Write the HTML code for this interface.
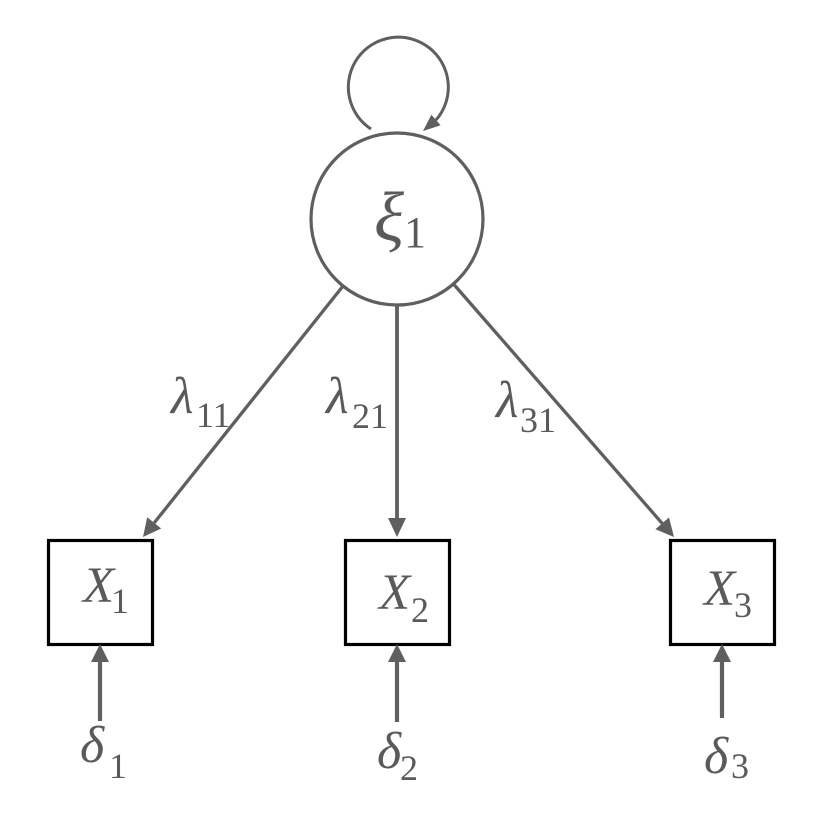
<!DOCTYPE html>
<html>
<head>
<meta charset="utf-8">
<style>
  html, body { margin:0; padding:0; background:#ffffff; }
  svg { display:block; }
  text { font-family: "Liberation Serif", "DejaVu Serif", serif; fill:#5a5a5a; }
  .it { font-style: italic; }
</style>
</head>
<body>
<svg width="828" height="814" viewBox="0 0 828 814" xmlns="http://www.w3.org/2000/svg">
  <!-- self loop -->
  <path d="M371 129 A50 50 0 1 1 436 120" fill="none" stroke="#5f5f5f" stroke-width="3"/>
  <polygon points="423,131 440.6,125.3 431.4,114.7" fill="#5f5f5f"/>

  <!-- latent circle -->
  <circle cx="397" cy="219" r="86" fill="none" stroke="#5f5f5f" stroke-width="3.2"/>
  <text class="it" x="374" y="240" font-size="70">ξ</text>
  <text x="404" y="247" font-size="44">1</text>

  <!-- loading 1 -->
  <line x1="343" y1="286" x2="154.2" y2="522.9" stroke="#5f5f5f" stroke-width="3.3"/>
  <polygon points="143,537 161.2,528.5 147.2,517.3" fill="#5f5f5f"/>
  <!-- loading 2 -->
  <line x1="397" y1="305" x2="397" y2="519" stroke="#5f5f5f" stroke-width="3.8"/>
  <polygon points="397,537 388,518 406,518" fill="#5f5f5f"/>
  <!-- loading 3 -->
  <line x1="453.5" y1="284" x2="662.2" y2="523.4" stroke="#5f5f5f" stroke-width="3.3"/>
  <polygon points="674,537 669,517.5 655.4,529.3" fill="#5f5f5f"/>

  <!-- lambda labels -->
  <text class="it" x="171" y="413" font-size="52">λ</text>
  <text x="196" y="427" font-size="36">11</text>
  <text class="it" x="326" y="413" font-size="52">λ</text>
  <text x="352" y="428" font-size="36">21</text>
  <text class="it" x="496" y="417" font-size="52">λ</text>
  <text x="520" y="432" font-size="36">31</text>

  <!-- boxes -->
  <rect x="48.5" y="540.5" width="104" height="104" fill="none" stroke="#000" stroke-width="3.2"/>
  <rect x="345.5" y="540.5" width="104" height="104" fill="none" stroke="#000" stroke-width="3.2"/>
  <rect x="670.5" y="540.5" width="104" height="104" fill="none" stroke="#000" stroke-width="3.2"/>

  <text class="it" x="83" y="602" font-size="51">X</text>
  <text x="111" y="613" font-size="36">1</text>
  <text class="it" x="379" y="609" font-size="51">X</text>
  <text x="411" y="622" font-size="36">2</text>
  <text class="it" x="704" y="605" font-size="51">X</text>
  <text x="734" y="617" font-size="36">3</text>

  <!-- delta arrows -->
  <line x1="100" y1="721" x2="100" y2="661" stroke="#5f5f5f" stroke-width="4.2"/>
  <polygon points="100,644 91,662 109,662" fill="#5f5f5f"/>
  <line x1="397" y1="722" x2="397" y2="661" stroke="#5f5f5f" stroke-width="4.2"/>
  <polygon points="397,644 388,662 406,662" fill="#5f5f5f"/>
  <line x1="722" y1="718" x2="722" y2="661" stroke="#5f5f5f" stroke-width="4.2"/>
  <polygon points="722,644 713,662 731,662" fill="#5f5f5f"/>

  <!-- delta labels -->
  <text class="it" x="80" y="762" font-size="52">δ</text>
  <text x="109" y="778" font-size="36">1</text>
  <text class="it" x="377" y="768" font-size="52">δ</text>
  <text x="400" y="780" font-size="36">2</text>
  <text class="it" x="704" y="773" font-size="52">δ</text>
  <text x="731" y="778" font-size="36">3</text>
</svg>
</body>
</html>
